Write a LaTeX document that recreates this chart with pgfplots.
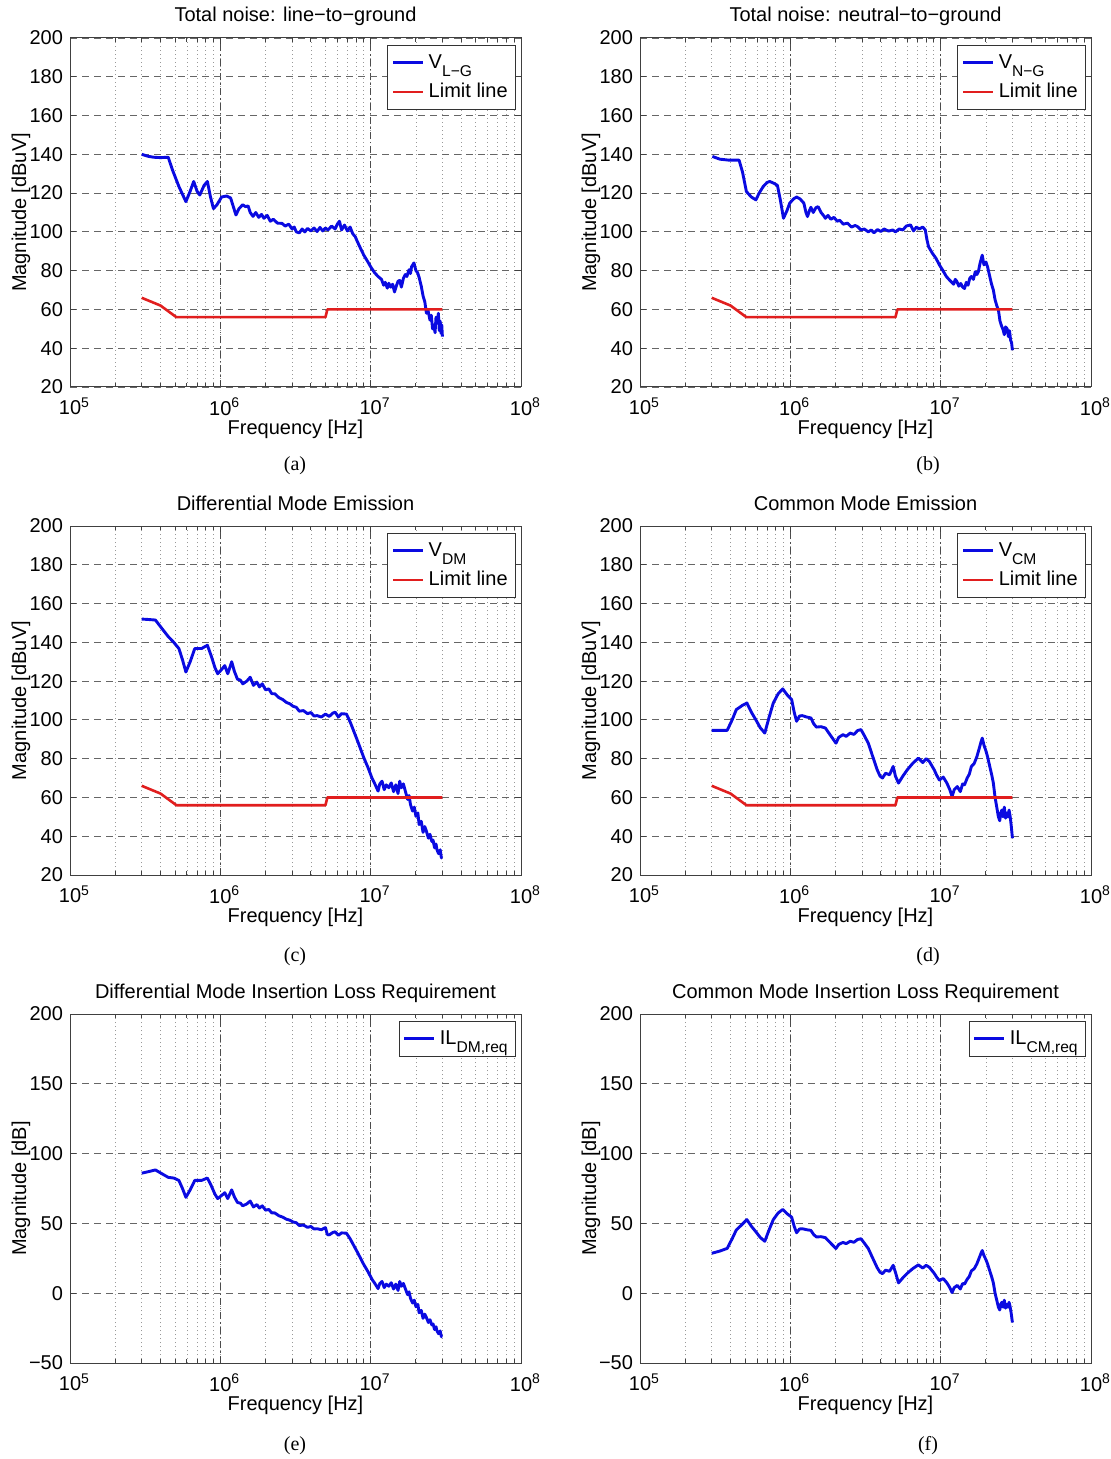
\documentclass[border=0pt]{standalone}
\usepackage{fontspec}
\setmainfont{Liberation Sans}
\newfontfamily\capfont{Liberation Serif}
\usepackage{pgfplots}
\pgfplotsset{compat=1.18}
\definecolor{mblue}{RGB}{10,10,225}
\definecolor{mred}{RGB}{225,30,30}
\newcommand{\sub}[1]{\raisebox{-0.75ex}{\fontsize{7.8}{8}\selectfont #1}}
\newcommand{\fs}{\fontsize{10}{12}\selectfont}
\newcommand{\dec}[1]{10\rlap{\textsuperscript{#1}}}
\pgfplotsset{
  legend image code/.code={\draw[#1] (0pt,0pt) -- (15pt,0pt);},
  legend cell align=left,
  every axis/.append style={
    width=225.5pt, height=174.5pt, scale only axis,
    xmin=1e5, xmax=1e8,
    xtick={1e5,1e6,1e7,1e8},
    xticklabels={\dec{5},\dec{6},\dec{7},\dec{8}},
    xmajorgrids, xminorgrids, ymajorgrids,
    major x grid style={black!70, line width=0.4pt, dash pattern=on 3.5pt off 1.5pt on 0.8pt off 1.5pt},
    minor x grid style={black!40, line width=0.35pt, dash pattern=on 0.6pt off 1.4pt},
    major y grid style={black!60, line width=0.4pt, dash pattern=on 3.5pt off 2.5pt},
    axis line style={black!75, line width=0.5pt},
    tick style={black!75, line width=0.5pt},
    major tick length=3pt, minor tick length=1.8pt,
    tick align=inside,
    ticklabel style={font=\fs},
    xticklabel style={yshift=-2pt},
    label style={font=\fs},
    xlabel={Frequency [Hz]},
    legend style={at={(0.989,0.98)}, anchor=north east, draw=black!80, fill=white,
      font=\fs, inner xsep=2pt, inner ysep=2.5pt, row sep=2pt},
  },
  every axis title/.style={at={(0.5,1)}, anchor=base, yshift=8pt, font=\fs},
  every axis x label/.style={at={(axis description cs:0.5,0)}, anchor=base, yshift=-23.5pt},
  every axis y label/.style={at={(axis description cs:-0.1086,0.5)}, rotate=90, anchor=center},
  myemis/.style={ymin=20, ymax=200, ytick={20,40,...,200},
    yticklabels={20,40,60,80,100,120,140,160,180,200}, ylabel={Magnitude [dBuV]}},
  myil/.style={ymin=-50, ymax=200, ytick={-50,0,50,100,150,200},
    yticklabels={−50,0,50,100,150,200}, ylabel={Magnitude [dB]}},
  myblue/.style={mblue, line width=1.45pt, line join=round},
  myred/.style={mred, line width=1.3pt, line join=round},
}
\begin{document}
\begin{tikzpicture}
\useasboundingbox (0,0) rectangle (555.5pt,-729.5pt);

% (a)
\begin{semilogxaxis}[myemis, at={(35pt,-193.5pt)}, anchor=south west,
  title={Total noise: line−to−ground}]
\addplot[myblue] coordinates {(3.0e5,140.0) (3.3e5,139) (3.6e5,138.5) (4.0e5,138.3) (4.5e5,138.5) (4.8e5,132) (5.3e5,123.4) (5.9e5,115.6) (6.3e5,121) (6.65e5,126) (7.0e5,121) (7.3e5,119) (7.8e5,124) (8.2e5,126) (8.6e5,118) (9.0e5,112) (9.5e5,114) (1.02e6,118) (1.1e6,118.5) (1.17e6,117.5) (1.22e6,113) (1.27e6,108.7) (1.33e6,112) (1.41e6,114) (1.47e6,113) (1.53e6,113.4) (1.58e6,110) (1.65e6,108) (1.72e6,110) (1.8e6,107.5) (1.88e6,109) (1.95e6,107) (2.05e6,108.5) (2.15e6,105.5) (2.25e6,106.5) (2.4e6,104.5) (2.57e6,104.4) (2.7e6,103) (2.85e6,104) (3.0e6,101.5) (3.1e6,102.5) (3.2e6,100) (3.35e6,99.5) (3.5e6,101.5) (3.65e6,100) (3.8e6,101.8) (4.0e6,100.5) (4.2e6,102) (4.4e6,100.2) (4.6e6,102.3) (4.8e6,100.5) (5.0e6,102) (5.2e6,101) (5.5e6,103) (5.8e6,101.5) (6.0e6,104) (6.2e6,105.5) (6.4e6,101) (6.7e6,103.5) (7.0e6,100.5) (7.3e6,102.5) (7.6e6,99) (7.9e6,97.5) (8.1e6,95.5) (8.5e6,92) (9.0e6,88) (9.5e6,85) (1.0e7,82) (1.06e7,79) (1.12e7,77) (1.18e7,75.5) (1.22e7,72.5) (1.25e7,74) (1.29e7,71) (1.32e7,73.5) (1.36e7,71.5) (1.4e7,73) (1.44e7,69) (1.48e7,72) (1.52e7,74.5) (1.56e7,75) (1.6e7,71.5) (1.65e7,76) (1.7e7,78) (1.74e7,77) (1.8e7,80.5) (1.84e7,78.5) (1.87e7,82) (1.94e7,84) (2.0e7,80) (2.05e7,79) (2.1e7,76.5) (2.17e7,72) (2.23e7,67) (2.29e7,64) (2.35e7,58) (2.4e7,60) (2.48e7,54.5) (2.53e7,57) (2.58e7,50) (2.63e7,52) (2.68e7,48) (2.72e7,56) (2.77e7,53) (2.82e7,58) (2.86e7,49) (2.9e7,54) (2.94e7,47.6) (2.97e7,52) (3.0e7,46)};
\addlegendentry{V\sub{L−G}}
\addplot[myred] coordinates {(3e5,66) (4e5,62) (5.1e5,56) (5e6,56) (5.15e6,60) (3e7,60)};
\addlegendentry{Limit line}
\end{semilogxaxis}

% (b)
\begin{semilogxaxis}[myemis, at={(320pt,-193.5pt)}, anchor=south west,
  title={Total noise: neutral−to−ground}]
\addplot[myblue] coordinates {(3.03e5,138.9) (3.4e5,137.5) (3.9e5,137) (4.56e5,137) (4.8e5,131) (5.1e5,120.8) (5.5e5,118) (5.9e5,116.5) (6.2e5,120) (6.6e5,123.4) (7.0e5,125.5) (7.3e5,126) (7.8e5,125) (8.2e5,124) (8.6e5,116) (9.0e5,107) (9.5e5,111) (9.9e5,114.8) (1.05e6,117) (1.1e6,118) (1.16e6,117) (1.23e6,114.8) (1.27e6,110) (1.3e6,107.9) (1.34e6,111) (1.37e6,112.7) (1.42e6,110) (1.48e6,112.5) (1.53e6,113) (1.6e6,110) (1.66e6,108.5) (1.71e6,107) (1.78e6,108.5) (1.86e6,106.5) (1.95e6,107.5) (2.05e6,105.5) (2.13e6,106) (2.25e6,104) (2.4e6,104.5) (2.55e6,102.5) (2.7e6,103.3) (2.8e6,102.7) (2.95e6,101) (3.1e6,101.5) (3.3e6,100) (3.45e6,101) (3.6e6,99.5) (3.8e6,101.2) (4.0e6,100.2) (4.2e6,101.5) (4.5e6,100.4) (4.8e6,101) (5.0e6,100) (5.3e6,101.5) (5.6e6,101) (5.9e6,103) (6.3e6,103.6) (6.6e6,100.5) (6.9e6,102.5) (7.2e6,101.5) (7.6e6,102.5) (7.9e6,101) (8.1e6,96) (8.3e6,92.4) (8.8e6,89) (9.3e6,86.4) (9.8e6,83) (1.03e7,80.3) (1.09e7,77) (1.15e7,75) (1.22e7,73) (1.25e7,75.5) (1.28e7,74.5) (1.32e7,72) (1.36e7,73.4) (1.4e7,71.5) (1.44e7,70.8) (1.48e7,74) (1.52e7,72.5) (1.56e7,76) (1.6e7,77) (1.65e7,75.5) (1.7e7,79.5) (1.74e7,78) (1.78e7,79.4) (1.83e7,84) (1.89e7,88) (1.94e7,83) (2.0e7,84.5) (2.05e7,82) (2.12e7,77) (2.18e7,73) (2.24e7,70) (2.3e7,65) (2.36e7,62) (2.42e7,59.7) (2.48e7,54) (2.54e7,51.5) (2.6e7,49.5) (2.65e7,47) (2.7e7,51) (2.77e7,50) (2.82e7,46) (2.87e7,49) (2.92e7,44) (2.96e7,43) (3.0e7,39)};
\addlegendentry{V\sub{N−G}}
\addplot[myred] coordinates {(3e5,66) (4e5,62) (5.1e5,56) (5e6,56) (5.15e6,60) (3e7,60)};
\addlegendentry{Limit line}
\end{semilogxaxis}

% (c)
\begin{semilogxaxis}[myemis, at={(35pt,-437.5pt)}, anchor=south west,
  title={Differential Mode Emission}]
\addplot[myblue] coordinates {(3.0e5,152) (3.3e5,151.8) (3.7e5,151.5) (4.1e5,147) (4.5e5,143) (4.9e5,140) (5.3e5,136.8) (5.6e5,131) (5.9e5,124.7) (6.3e5,130) (6.76e5,136.8) (7.1e5,136.8) (7.5e5,136.8) (8.2e5,138.5) (8.7e5,133) (9.2e5,127) (9.6e5,123.8) (1.02e6,126) (1.07e6,128) (1.12e6,123.8) (1.19e6,130) (1.24e6,125) (1.3e6,121) (1.36e6,120.5) (1.41e6,118.6) (1.5e6,120) (1.58e6,122) (1.66e6,117.8) (1.75e6,119.5) (1.82e6,117) (1.9e6,118.6) (2.0e6,115.5) (2.1e6,116) (2.2e6,113.5) (2.3e6,113.5) (2.45e6,111.5) (2.6e6,110.5) (2.75e6,109) (2.9e6,108.3) (3.05e6,107) (3.2e6,106.5) (3.35e6,104.5) (3.57e6,104.8) (3.8e6,103.2) (4.0e6,103.8) (4.2e6,102) (4.4e6,102.2) (4.7e6,101.5) (5.0e6,103) (5.3e6,101.8) (5.6e6,103.5) (5.8e6,104) (6.1e6,101.5) (6.4e6,103.2) (6.9e6,103) (7.3e6,99) (7.7e6,94.4) (8.1e6,90) (8.5e6,85.7) (9.0e6,80.5) (9.6e6,75.4) (1.02e7,70) (1.07e7,66.7) (1.12e7,63.3) (1.15e7,67) (1.19e7,68.4) (1.23e7,64) (1.27e7,66.5) (1.32e7,65) (1.37e7,67.5) (1.42e7,63) (1.47e7,66.5) (1.52e7,62) (1.56e7,68.4) (1.6e7,65) (1.65e7,67) (1.7e7,63.3) (1.76e7,59) (1.8e7,61) (1.84e7,56.3) (1.9e7,53) (1.95e7,55) (2.0e7,50.3) (2.06e7,52) (2.1e7,46) (2.17e7,47.7) (2.23e7,42) (2.29e7,45) (2.35e7,42.5) (2.42e7,39) (2.48e7,41) (2.55e7,37.3) (2.6e7,38) (2.66e7,34) (2.72e7,36) (2.76e7,33) (2.83e7,31) (2.9e7,33) (2.95e7,29) (3.0e7,28.7)};
\addlegendentry{V\sub{DM}}
\addplot[myred] coordinates {(3e5,66) (4e5,62) (5.1e5,56) (5e6,56) (5.15e6,60) (3e7,60)};
\addlegendentry{Limit line}
\end{semilogxaxis}

% (d)
\begin{semilogxaxis}[myemis, at={(320pt,-437.5pt)}, anchor=south west,
  title={Common Mode Emission}]
\addplot[myblue] coordinates {(3.0e5,94.6) (3.4e5,94.6) (3.8e5,94.6) (4.1e5,100) (4.37e5,105.3) (4.8e5,107.5) (5.14e5,108.7) (5.5e5,104) (5.9e5,100) (6.3e5,96) (6.76e5,93.2) (7.2e5,101) (7.7e5,108.7) (8.3e5,113.5) (8.9e5,116) (9.5e5,113) (1.02e6,110.5) (1.06e6,104) (1.1e6,99.3) (1.15e6,102) (1.2e6,102.2) (1.28e6,101.5) (1.37e6,101) (1.43e6,98) (1.49e6,96.3) (1.6e6,96.5) (1.71e6,95.8) (1.85e6,92) (2.01e6,88) (2.1e6,91) (2.24e6,92.4) (2.35e6,91.5) (2.5e6,93.2) (2.65e6,92.5) (2.8e6,94.5) (2.95e6,95) (3.1e6,92) (3.3e6,88) (3.5e6,82) (3.78e6,74.3) (3.95e6,71) (4.1e6,70) (4.3e6,72.5) (4.57e6,71.7) (4.83e6,76) (5.0e6,71) (5.24e6,67.4) (5.6e6,71) (6.0e6,74.3) (6.5e6,77.5) (7.1e6,80.3) (7.6e6,78) (8.0e6,80) (8.4e6,78.6) (9.05e6,74.3) (9.4e6,71.5) (9.8e6,69) (1.04e7,70.5) (1.1e7,67.4) (1.15e7,64) (1.19e7,60.5) (1.23e7,64) (1.29e7,65.6) (1.35e7,63) (1.4e7,67) (1.44e7,66.5) (1.5e7,70) (1.55e7,72) (1.6e7,76) (1.67e7,77.5) (1.74e7,81) (1.8e7,85) (1.86e7,89) (1.89e7,90.6) (1.94e7,87) (2.0e7,84) (2.05e7,81) (2.12e7,76) (2.18e7,72) (2.24e7,67.4) (2.3e7,60) (2.36e7,55) (2.42e7,50) (2.47e7,48) (2.51e7,52) (2.55e7,53.5) (2.6e7,50) (2.65e7,55) (2.7e7,49.3) (2.75e7,52) (2.8e7,50) (2.85e7,53.5) (2.9e7,50) (2.95e7,45) (3.0e7,39)};
\addlegendentry{V\sub{CM}}
\addplot[myred] coordinates {(3e5,66) (4e5,62) (5.1e5,56) (5e6,56) (5.15e6,60) (3e7,60)};
\addlegendentry{Limit line}
\end{semilogxaxis}

% (e)
\begin{semilogxaxis}[myil, at={(35pt,-681.5pt)}, anchor=south west,
  title={Differential Mode Insertion Loss Requirement}]
\addplot[myblue] coordinates {(3.0e5,86) (3.3e5,87) (3.7e5,88.3) (4.1e5,85.5) (4.5e5,83) (4.9e5,82.5) (5.3e5,80.8) (5.6e5,75) (5.9e5,68.7) (6.3e5,74) (6.76e5,80.8) (7.1e5,80.8) (7.5e5,80.8) (8.2e5,82.5) (8.7e5,77) (9.2e5,71) (9.6e5,67.8) (1.02e6,70) (1.07e6,72) (1.12e6,67.8) (1.19e6,74) (1.24e6,69) (1.3e6,65) (1.36e6,64.5) (1.41e6,62.6) (1.5e6,64) (1.58e6,66) (1.66e6,61.8) (1.75e6,63.5) (1.82e6,61) (1.9e6,62.6) (2.0e6,59.5) (2.1e6,60) (2.2e6,57.5) (2.3e6,57.5) (2.45e6,55.5) (2.6e6,54.5) (2.75e6,53) (2.9e6,52.3) (3.05e6,51) (3.2e6,50.5) (3.35e6,48.5) (3.57e6,48.8) (3.8e6,47.2) (4.0e6,47.8) (4.2e6,46) (4.4e6,46.2) (4.7e6,45.5) (5.0e6,47) (5.15e6,42) (5.3e6,41.8) (5.6e6,43.5) (5.8e6,44) (6.1e6,41.5) (6.4e6,43.2) (6.9e6,43) (7.3e6,39) (7.7e6,34.4) (8.1e6,30) (8.5e6,25.7) (9.0e6,20.5) (9.6e6,15.4) (1.02e7,10) (1.07e7,6.7) (1.12e7,3.3) (1.15e7,7) (1.19e7,8.4) (1.23e7,4) (1.27e7,6.5) (1.32e7,5) (1.37e7,7.5) (1.42e7,3) (1.47e7,6.5) (1.52e7,2) (1.56e7,8.4) (1.6e7,5) (1.65e7,7) (1.7e7,3.3) (1.76e7,-1) (1.8e7,1) (1.84e7,-3.7) (1.9e7,-7) (1.95e7,-5) (2.0e7,-9.7) (2.06e7,-8) (2.1e7,-14) (2.17e7,-12.3) (2.23e7,-18) (2.29e7,-15) (2.35e7,-17.5) (2.42e7,-21) (2.48e7,-19) (2.55e7,-22.7) (2.6e7,-22) (2.66e7,-26) (2.72e7,-24) (2.76e7,-27) (2.83e7,-29) (2.9e7,-27) (2.95e7,-31) (3.0e7,-31.3)};
\addlegendentry{IL\sub{DM,req}}
\end{semilogxaxis}

% (f)
\begin{semilogxaxis}[myil, at={(320pt,-681.5pt)}, anchor=south west,
  title={Common Mode Insertion Loss Requirement}]
\addplot[myblue] coordinates {(3.0e5,28.6) (3.4e5,30.2) (3.8e5,32.1) (4.1e5,39) (4.37e5,45.3) (4.8e5,49.5) (5.14e5,52.7) (5.5e5,48) (5.9e5,44) (6.3e5,40) (6.76e5,37.2) (7.2e5,45) (7.7e5,52.7) (8.3e5,57.5) (8.9e5,60) (9.5e5,57) (1.02e6,54.5) (1.06e6,48) (1.1e6,43.3) (1.15e6,46) (1.2e6,46.2) (1.28e6,45.5) (1.37e6,45) (1.43e6,42) (1.49e6,40.3) (1.6e6,40.5) (1.71e6,39.8) (1.85e6,36) (2.01e6,32) (2.1e6,35) (2.24e6,36.4) (2.35e6,35.5) (2.5e6,37.2) (2.65e6,36.5) (2.8e6,38.5) (2.95e6,39) (3.1e6,36) (3.3e6,32) (3.5e6,26) (3.78e6,18.3) (3.95e6,15) (4.1e6,14) (4.3e6,16.5) (4.57e6,15.7) (4.83e6,20) (5.0e6,15) (5.24e6,7.4) (5.6e6,11) (6.0e6,14.3) (6.5e6,17.5) (7.1e6,20.3) (7.6e6,18) (8.0e6,20) (8.4e6,18.6) (9.05e6,14.3) (9.4e6,11.5) (9.8e6,9) (1.04e7,10.5) (1.1e7,7.4) (1.15e7,4) (1.19e7,0.5) (1.23e7,4) (1.29e7,5.6) (1.35e7,3) (1.4e7,7) (1.44e7,6.5) (1.5e7,10) (1.55e7,12) (1.6e7,16) (1.67e7,17.5) (1.74e7,21) (1.8e7,25) (1.86e7,29) (1.89e7,30.6) (1.94e7,27) (2.0e7,24) (2.05e7,21) (2.12e7,16) (2.18e7,12) (2.24e7,7.4) (2.3e7,0) (2.36e7,-5) (2.42e7,-10) (2.47e7,-12) (2.51e7,-8) (2.55e7,-6.5) (2.6e7,-10) (2.65e7,-5) (2.7e7,-10.7) (2.75e7,-8) (2.8e7,-10) (2.85e7,-6.5) (2.9e7,-10) (2.95e7,-15) (3.0e7,-21)};
\addlegendentry{IL\sub{CM,req}}
\end{semilogxaxis}

\node[font=\capfont\fontsize{10}{12}\selectfont] at (147.5pt,-233pt) {(a)};
\node[font=\capfont\fontsize{10}{12}\selectfont] at (464pt,-233pt) {(b)};
\node[font=\capfont\fontsize{10}{12}\selectfont] at (147.5pt,-478.5pt) {(c)};
\node[font=\capfont\fontsize{10}{12}\selectfont] at (464pt,-478.5pt) {(d)};
\node[font=\capfont\fontsize{10}{12}\selectfont] at (147.5pt,-723pt) {(e)};
\node[font=\capfont\fontsize{10}{12}\selectfont] at (464pt,-723pt) {(f)};
\end{tikzpicture}
\end{document}
